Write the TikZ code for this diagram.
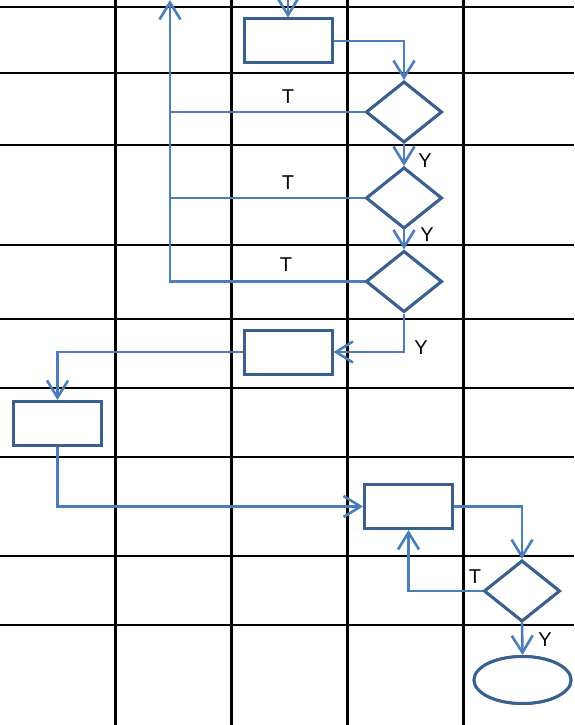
\documentclass[tikz,border=0pt]{standalone}
\usepackage{fontspec}
\setmainfont{Liberation Sans}
\usetikzlibrary{shapes.geometric,arrows.meta}
\definecolor{shapeblue}{HTML}{3A6090}
\definecolor{linkblue}{HTML}{4A7EBB}
\tikzset{
  grid v/.style={line width=3pt,black},
  grid h/.style={line width=1.2pt,black},
  procbox/.style={draw=shapeblue,line width=3pt,fill=white,minimum width=88pt,minimum height=44pt,inner sep=0pt},
  decide/.style={diamond,draw=shapeblue,line width=3pt,fill=white,minimum width=76pt,minimum height=61pt,inner sep=0pt},
  termin/.style={ellipse,draw=shapeblue,line width=3pt,fill=white,minimum width=97pt,minimum height=47pt,inner sep=0pt},
  link/.style={draw=linkblue,line width=2.6pt},
  linkarrow/.style={link,-{Straight Barb[length=17pt,width=21pt,line width=2.6pt]}},
  lbl/.style={font=\fontsize{20}{24}\selectfont,inner sep=0pt}
}
\begin{document}
\begin{tikzpicture}[x=1pt,y=-1pt]
\useasboundingbox (0,0) rectangle (574,725);
\clip (0,0) rectangle (574,725);
% grid
\foreach \yy in {7,73,145,245,319,388,457,556,625}
  \draw[grid h] (0,\yy) -- (574,\yy);
\foreach \xx in {115,231,347,463}
  \draw[grid v] (\xx,0) -- (\xx,725);
% nodes
\node[procbox] (b1) at (288,41) {};
\node[decide] (d1) at (404,112) {};
\node[decide] (d2) at (404,198) {};
\node[decide] (d3) at (404,281.5) {};
\node[procbox] (b2) at (288,352) {};
\node[procbox] (b3) at (57.5,423.5) {};
\node[procbox] (b4) at (408.5,506.5) {};
\node[decide] (d4) at (522,591) {};
\node[termin] (e) at (522.5,680) {};
\coordinate (topin) at (288,-1);
\coordinate (up) at (170,0);
% connectors
\draw[linkarrow] (topin) -- (b1.north);
\draw[linkarrow] (b1.east) -| (d1.north);
\draw[link] (d1.west) -- (d1.west -| up);
\draw[link] (d2.west) -- (d2.west -| up);
\draw[linkarrow] (d3.west) -| (up);
\draw[linkarrow] (d1.south) -- (d2.north);
\draw[linkarrow] (d2.south) -- (d3.north);
\draw[linkarrow] (d3.south) |- (b2.east);
\draw[linkarrow] (b2.west) -| (b3.north);
\draw[linkarrow] (b3.south) |- (b4.west);
\draw[linkarrow] (b4.east) -| (d4.north);
\draw[linkarrow] (d4.west) -| (b4.south);
\draw[linkarrow] (d4.south) -- (e.north);
% redraw shapes on top
\node[procbox] at (b1) {};
\node[decide] at (d1) {};
\node[decide] at (d2) {};
\node[decide] at (d3) {};
\node[procbox] at (b2) {};
\node[procbox] at (b3) {};
\node[procbox] at (b4) {};
\node[decide] at (d4) {};
\node[termin] at (e) {};
% labels
\node[lbl] (t1) at (288,97) {T};
\node[lbl] (t2) at (288,183) {T};
\node[lbl] (t3) at (286,265) {T};
\node[lbl] (t4) at (475,577) {T};
\node[lbl] (y1) at (425,161) {Y};
\node[lbl,fill=white,inner xsep=2pt] (y2) at (427,235) {Y};
\node[lbl] (y3) at (421,348) {Y};
\node[lbl] (y4) at (545,640) {Y};
\end{tikzpicture}
\end{document}
